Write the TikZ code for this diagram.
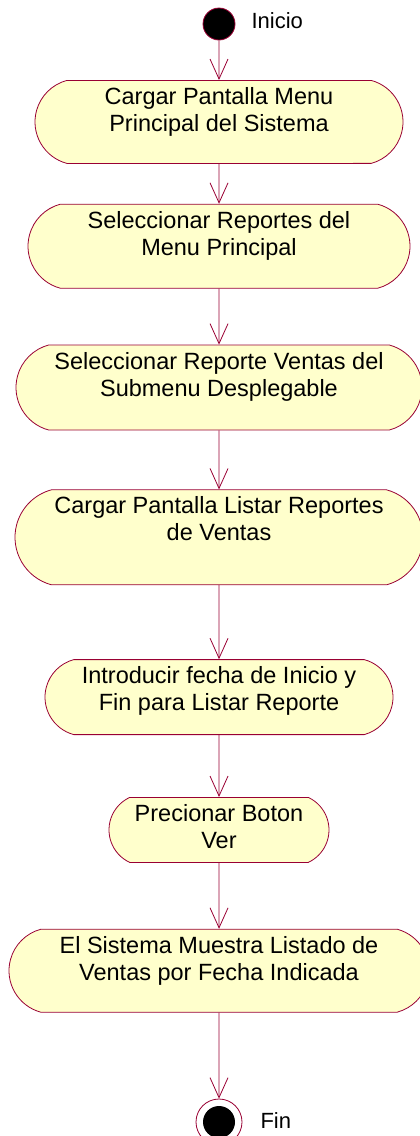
\documentclass[tikz,border=0pt]{standalone}
\usepackage{fontspec}
\setmainfont{Liberation Sans}
\usepackage{xcolor}
\usetikzlibrary{shapes.misc, arrows.meta, positioning}
\definecolor{roseline}{RGB}{153,0,51}
\definecolor{rosefill}{RGB}{255,255,204}
\newcommand{\twolines}[2]{\vtop{\halign{\hfil##\hfil\cr #1\cr #2\cr}}}
\tikzset{
  activity/.style={rounded rectangle, rounded rectangle arc length=150,
                   draw=roseline, fill=rosefill, line width=0.8pt, inner sep=0pt,
                   text height=24pt, font=\fontsize{23.5}{27}\selectfont},
  arrow/.style={-{Straight Barb[length=20pt,width=18pt]}, draw=roseline, line width=0.8pt},
  startstate/.style={circle, draw=roseline, fill=black, line width=0.8pt,
                     minimum size=32pt, inner sep=0pt},
  endstate/.style={circle, draw=roseline, fill=white, line width=0.8pt,
                   minimum size=46pt, inner sep=0pt,
                   path picture={\fill[black] (path picture bounding box.center) circle (16pt);}},
  statetext/.style={anchor=base west, font=\fontsize{22}{26}\selectfont}
}

\begin{document}
\begin{tikzpicture}[x=1pt, y=-1pt]
    \useasboundingbox (0,0) rectangle (420,1136);

    \node[startstate] (start) at (219,24) {};
    \node[statetext] (startText) at (248,28) {Inicio};

    \node[activity, anchor=north, minimum width=368pt, text depth=59pt] (pantalla) at (219,80)
        {\twolines{Cargar Pantalla Menu}{Principal del Sistema}};
    \node[activity, below=40pt of pantalla, minimum width=382pt, text depth=60pt] (reportes)
        {\twolines{Seleccionar Reportes del}{Menu Principal}};
    \node[activity, below=56pt of reportes, minimum width=406pt, text depth=61pt] (ventas)
        {\twolines{Seleccionar Reporte Ventas del}{Submenu Desplegable}};
    \node[activity, below=59pt of ventas, minimum width=408pt, text depth=71pt] (listar)
        {\twolines{Cargar Pantalla Listar Reportes}{de Ventas}};
    \node[activity, below=74pt of listar, minimum width=348pt, text depth=51pt] (fechas)
        {\twolines{Introducir fecha de Inicio y}{Fin para Listar Reporte}};
    \node[activity, below=62pt of fechas, minimum width=220pt, text depth=41pt,
          rounded rectangle arc length=130] (boton)
        {\twolines{Precionar Boton}{Ver}};
    \node[activity, below=66pt of boton, minimum width=420pt, text depth=59pt] (muestra)
        {\twolines{El Sistema Muestra Listado de}{Ventas por Fecha Indicada}};

    \node[endstate, below=86pt of muestra] (fin) {};
    \node[statetext] (finText) at (257,1128) {Fin};

    \draw[arrow] (start) -- (pantalla);
    \draw[arrow] (pantalla) -- (reportes);
    \draw[arrow] (reportes) -- (ventas);
    \draw[arrow] (ventas) -- (listar);
    \draw[arrow] (listar) -- (fechas);
    \draw[arrow] (fechas) -- (boton);
    \draw[arrow] (boton) -- (muestra);
    \draw[arrow] (muestra) -- (fin);
\end{tikzpicture}
\end{document}
